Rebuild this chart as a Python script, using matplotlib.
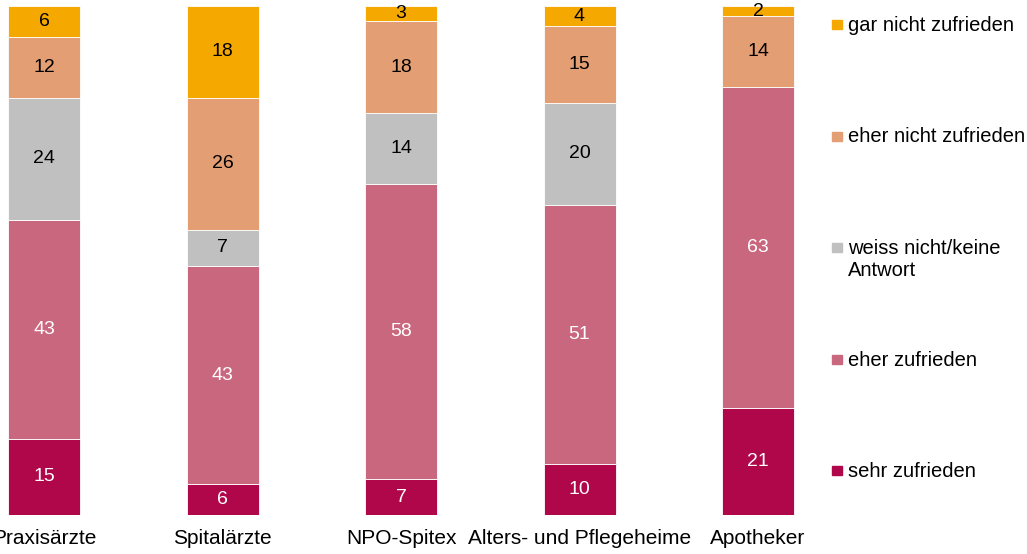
import matplotlib.pyplot as plt
from matplotlib.patches import Rectangle
import numpy as np

plt.rcParams['font.family'] = ['Liberation Sans', 'DejaVu Sans']

# categories (left to right)
groups = ['Praxisärzte', 'Spitalärzte', 'NPO-Spitex', 'Alters- und Pflegeheime', 'Apotheker']

# series from bottom to top, values in percent
series = ['sehr zufrieden', 'eher zufrieden', 'weiss nicht/keine\nAntwort',
          'eher nicht zufrieden', 'gar nicht zufrieden']
sehr_zufrieden = [15, 6, 7, 10, 21]
eher_zufrieden = [43, 43, 58, 51, 63]
weiss_nicht = [24, 7, 14, 20, 0]
eher_nicht = [12, 26, 18, 15, 14]
gar_nicht = [6, 18, 3, 4, 2]

values = [sehr_zufrieden, eher_zufrieden, weiss_nicht, eher_nicht, gar_nicht]
colors = ['#B0064A', '#C9677E', '#C0C0C0', '#E39E74', '#F5A800']
text_colors = ['white', 'white', 'black', 'black', 'black']

W, H = 1027, 554
fig = plt.figure(figsize=(W / 100, H / 100), dpi=100)

# axes placed in pixels: bars from y=6 to y=515, first bar centre at x=44
ax_left, ax_right = 0, 803.5
ax_top, ax_bottom = 6, 515
ax = fig.add_axes([ax_left / W, (H - ax_bottom) / H,
                   (ax_right - ax_left) / W, (ax_bottom - ax_top) / H])

step = 178.5
x = np.arange(len(groups))
ax.set_xlim(-44 / step, -44 / step + (ax_right - ax_left) / step)
ax.set_ylim(0, 100)

bottom = np.zeros(len(groups))
for vals, col, tcol in zip(values, colors, text_colors):
    vals = np.array(vals)
    ax.bar(x, vals, width=72 / step, bottom=bottom, color=col,
           edgecolor='white', linewidth=0.6)
    for xi, b, v in zip(x, bottom, vals):
        if v > 0:
            ax.text(xi, b + v / 2, str(v), ha='center', va='center',
                    fontsize=14, color=tcol)
    bottom += vals

for s in ax.spines.values():
    s.set_visible(False)
ax.set_yticks([])
ax.set_xticks(x)
ax.set_xticklabels(groups, fontsize=15)
ax.tick_params(axis='x', length=0, pad=10)

# legend, top entry first
for i, (lab, col) in enumerate(zip(series[::-1], colors[::-1])):
    yc = 24.5 + i * 111.5
    fig.add_artist(Rectangle((832 / W, (H - yc - 4.5) / H), 9.5 / W, 9 / H,
                             transform=fig.transFigure, color=col))
    fig.text(848 / W, (H - yc + 8.5) / H, lab, ha='left', va='top',
             fontsize=14.5, linespacing=1.2)

fig.savefig('out.png', dpi=100)
